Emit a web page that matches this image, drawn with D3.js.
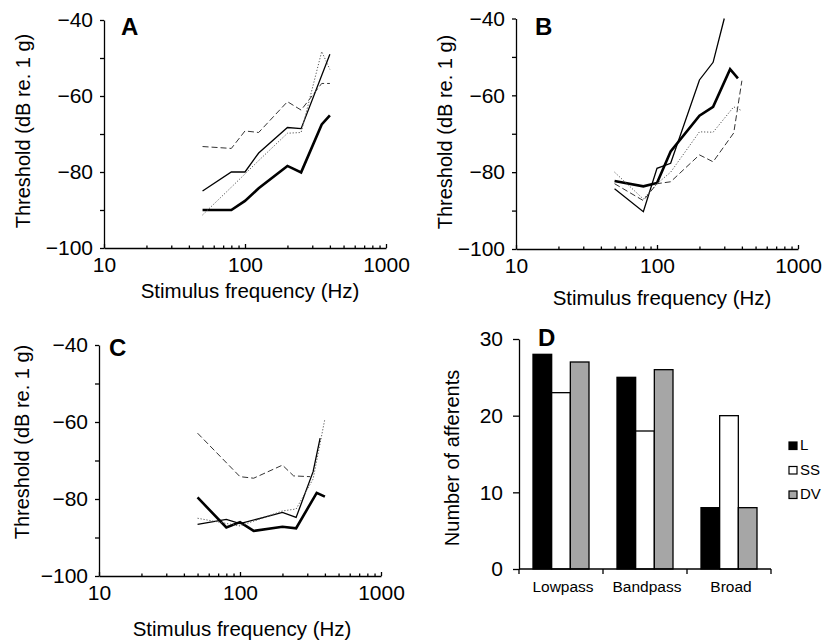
<!DOCTYPE html>
<html>
<head>
<meta charset="utf-8">
<script src="https://cdn.jsdelivr.net/npm/d3@7"></script>
<style>
  html, body { margin: 0; padding: 0; background: #fff; }
  svg { display: block; font-family: "Liberation Sans", Arial, Helvetica, sans-serif; }
</style>
</head>
<body>
<svg id="chart" width="824" height="640"></svg>
<script>
// ---------------- DATA ----------------
// Panel A
const freqA_thick  = [50, 80, 100, 125, 200, 250, 350, 400];
const valA_thick   = [-90, -90, -87.6, -84.3, -78.4, -80.1, -67.5, -65.1];
const freqA_thin   = [50, 80, 100, 125, 200, 250, 400];
const valA_thin    = [-85, -80, -80, -75, -68.3, -68.6, -49];
const freqA_dashed = [50, 80, 100, 125, 200, 250, 350, 400];
const valA_dashed  = [-73.3, -73.8, -69.2, -69.6, -61.5, -63.7, -56.7, -56.7];
const freqA_dotted = [50, 80, 100, 125, 200, 250, 350, 400];
const valA_dotted  = [-91.3, -84, -80.5, -77, -69.8, -69.6, -48.3, -53];

// Panel B
const freqB_thick  = [50, 80, 100, 125, 200, 250, 330, 375];
const valB_thick   = [-82.3, -83.7, -82.8, -74.6, -65.3, -63, -53.2, -55.6];
const freqB_thin   = [50, 80, 100, 125, 200, 250, 300];
const valB_thin    = [-84.3, -90.3, -79, -77.7, -56, -51.4, -40];
const freqB_dashed = [50, 80, 100, 125, 200, 250, 350, 400];
const valB_dashed  = [-83, -87.4, -83, -82.5, -75.5, -77.3, -69.8, -56.2];
const freqB_dotted = [50, 80, 100, 125, 200, 250, 350, 400];
const valB_dotted  = [-80, -87, -83, -80, -69.5, -69.6, -63, -64];

// Panel C
const freqC_thick  = [50, 80, 100, 125, 200, 250, 350, 400];
const valC_thick   = [-79.6, -87.4, -86, -88.3, -87.2, -87.6, -78.4, -79.4];
const freqC_thin   = [50, 80, 100, 200, 250, 330, 370];
const valC_thin    = [-86.6, -85.3, -86.4, -83.5, -84.8, -72.9, -64.2];
const freqC_dashed = [50, 100, 125, 200, 240, 315];
const valC_dashed  = [-62.9, -74.2, -74.6, -71.2, -74, -74.2];
const freqC_dotted = [50, 100, 200, 250, 330, 400];
const valC_dotted  = [-85, -87, -83.1, -82.6, -74.8, -59.2];

// Panel D
const categoriesD = ["Lowpass", "Bandpass", "Broad"];
const groupsD     = ["L", "SS", "DV"];
const valD_L      = [28, 25, 8];
const valD_SS     = [23, 18, 20];
const valD_DV     = [27, 26, 8];

// Axis ticks
const yMajorTicks = [-40, -60, -80, -100];
const yMinorTicks = [-50, -70, -90];
const xMajorTicks = [10, 100, 1000];
const xMinorTicks = [20, 30, 40, 50, 60, 70, 80, 90, 200, 300, 400, 500, 600, 700, 800, 900];
const yTicksD     = [0, 10, 20, 30];

// ---------------- STYLES ----------------
const lineStyles = {
  thick:  { stroke: "#000", width: 2.6, dash: null },
  thin:   { stroke: "#000", width: 1.3, dash: null },
  dashed: { stroke: "#333", width: 1.0, dash: "6,3" },
  dotted: { stroke: "#555", width: 1.0, dash: "1.2,1.8" }
};
const barFill = { L: "#000", SS: "#fff", DV: "#a6a6a6" };

const svg = d3.select("#chart");

function linePanel(cfg) {
  const g = svg.append("g");
  const x = d3.scaleLog().domain([10, 1000]).range([cfg.left, cfg.right]);
  const y = d3.scaleLinear().domain([-100, -40]).range([cfg.bottom, cfg.top]);

  g.append("g").attr("transform", `translate(0,${cfg.bottom})`)
    .call(d3.axisBottom(x).tickValues(xMajorTicks).tickFormat(d3.format("d"))
      .tickSizeInner(-4).tickSizeOuter(0).tickPadding(9));
  g.append("g").attr("transform", `translate(0,${cfg.bottom})`)
    .call(d3.axisBottom(x).tickValues(xMinorTicks).tickFormat("")
      .tickSizeInner(-2.5).tickSizeOuter(0))
    .call(s => s.select(".domain").remove());

  g.append("g").attr("transform", `translate(${cfg.left},0)`)
    .call(d3.axisLeft(y).tickValues(yMajorTicks).tickFormat(d3.format("d"))
      .tickSizeInner(4).tickSizeOuter(0).tickPadding(7));
  g.append("g").attr("transform", `translate(${cfg.left},0)`)
    .call(d3.axisLeft(y).tickValues(yMinorTicks).tickFormat("")
      .tickSizeInner(4).tickSizeOuter(0))
    .call(s => s.select(".domain").remove());

  g.selectAll(".tick text").attr("font-size", 21).attr("fill", "#000")
    .attr("font-family", "Liberation Sans, Arial, sans-serif");
  g.selectAll(".domain, .tick line").attr("stroke", "#000").attr("stroke-width", 1.3);

  const line = d3.line().x(d => x(d[0])).y(d => y(d[1]));
  cfg.series.forEach(s => {
    const st = lineStyles[s.style];
    const pts = s.f.map((f, i) => [f, s.v[i]]);
    g.append("path").datum(pts).attr("d", line)
      .attr("fill", "none").attr("stroke", st.stroke)
      .attr("stroke-width", st.width)
      .attr("stroke-linejoin", "miter")
      .attr("stroke-dasharray", st.dash);
  });

  g.append("text").attr("x", cfg.xTitle[0]).attr("y", cfg.xTitle[1])
    .attr("text-anchor", "middle").attr("font-size", 20.5).text("Stimulus frequency (Hz)");
  g.append("text")
    .attr("transform", `translate(${cfg.yTitle[0]},${cfg.yTitle[1]}) rotate(-90)`)
    .attr("text-anchor", "middle").attr("font-size", 20).text("Threshold (dB re. 1 g)");
  g.append("text").attr("x", cfg.letter[0]).attr("y", cfg.letter[1])
    .attr("font-size", 24).attr("font-weight", "bold").text(cfg.name);
}

linePanel({
  name: "A", left: 104, right: 386, top: 20, bottom: 248,
  xTitle: [250, 298], yTitle: [30, 131], letter: [121, 35],
  series: [
    { f: freqA_thick, v: valA_thick, style: "thick" },
    { f: freqA_thin, v: valA_thin, style: "thin" },
    { f: freqA_dashed, v: valA_dashed, style: "dashed" },
    { f: freqA_dotted, v: valA_dotted, style: "dotted" }
  ]
});
linePanel({
  name: "B", left: 516, right: 798, top: 18.5, bottom: 249,
  xTitle: [662, 305], yTitle: [452, 132], letter: [535, 35],
  series: [
    { f: freqB_thick, v: valB_thick, style: "thick" },
    { f: freqB_thin, v: valB_thin, style: "thin" },
    { f: freqB_dashed, v: valB_dashed, style: "dashed" },
    { f: freqB_dotted, v: valB_dotted, style: "dotted" }
  ]
});
linePanel({
  name: "C", left: 99, right: 381, top: 345, bottom: 576,
  xTitle: [242, 636], yTitle: [29, 442], letter: [109, 356],
  series: [
    { f: freqC_thick, v: valC_thick, style: "thick" },
    { f: freqC_thin, v: valC_thin, style: "thin" },
    { f: freqC_dashed, v: valC_dashed, style: "dashed" },
    { f: freqC_dotted, v: valC_dotted, style: "dotted" }
  ]
});

// ---------------- PANEL D ----------------
(function () {
  const left = 519, right = 771, top = 339, bottom = 569;
  const g = svg.append("g");
  const x0 = d3.scaleBand().domain(categoriesD).range([left, right]).padding(0);
  const x1 = d3.scaleBand().domain(groupsD).range([0, x0.bandwidth()])
    .paddingInner(0).paddingOuter(0.75);
  const y = d3.scaleLinear().domain([0, 30]).range([bottom, top]);
  const vals = { L: valD_L, SS: valD_SS, DV: valD_DV };

  categoriesD.forEach((c, ci) => {
    groupsD.forEach(k => {
      g.append("rect")
        .attr("x", x0(c) + x1(k)).attr("width", x1.bandwidth())
        .attr("y", y(vals[k][ci])).attr("height", y(0) - y(vals[k][ci]))
        .attr("fill", barFill[k]).attr("stroke", "#000").attr("stroke-width", 1.3);
    });
  });

  const ya = g.append("g").attr("transform", `translate(${left},0)`)
    .call(d3.axisLeft(y).tickValues(yTicksD).tickFormat(d3.format("d"))
      .tickSizeInner(6).tickSizeOuter(0).tickPadding(10));
  ya.selectAll("text").attr("font-size", 21).attr("fill", "#000")
    .attr("font-family", "Liberation Sans, Arial, sans-serif");

  const bounds = categoriesD.map(c => x0(c)).concat([x0(categoriesD[categoriesD.length - 1]) + x0.bandwidth()]);
  g.append("line").attr("x1", left).attr("x2", right).attr("y1", bottom).attr("y2", bottom)
    .attr("stroke", "#000").attr("stroke-width", 1.3);
  g.selectAll(".xt").data(bounds).enter().append("line")
    .attr("x1", d => d).attr("x2", d => d).attr("y1", bottom).attr("y2", bottom + 5)
    .attr("stroke", "#000").attr("stroke-width", 1.3);
  g.selectAll(".xl").data(categoriesD).enter().append("text")
    .attr("x", d => x0(d) + x0.bandwidth() / 2 + 2).attr("y", 592)
    .attr("text-anchor", "middle").attr("font-size", 15.5).text(d => d);

  g.selectAll(".domain, .tick line").attr("stroke", "#000").attr("stroke-width", 1.3);

  g.append("text")
    .attr("transform", `translate(459,458) rotate(-90)`)
    .attr("text-anchor", "middle").attr("font-size", 20).text("Number of afferents");
  g.append("text").attr("x", 538).attr("y", 346)
    .attr("font-size", 24).attr("font-weight", "bold").text("D");

  const lg = g.append("g");
  groupsD.forEach((k, i) => {
    const yy = 442 + i * 24.5;
    lg.append("rect").attr("x", 789).attr("y", yy).attr("width", 8).attr("height", 7.5)
      .attr("fill", barFill[k]).attr("stroke", "#000").attr("stroke-width", 1.2);
    lg.append("text").attr("x", 800).attr("y", yy + 8.3).attr("font-size", 15).text(k);
  });
})();
</script>
</body>
</html>
